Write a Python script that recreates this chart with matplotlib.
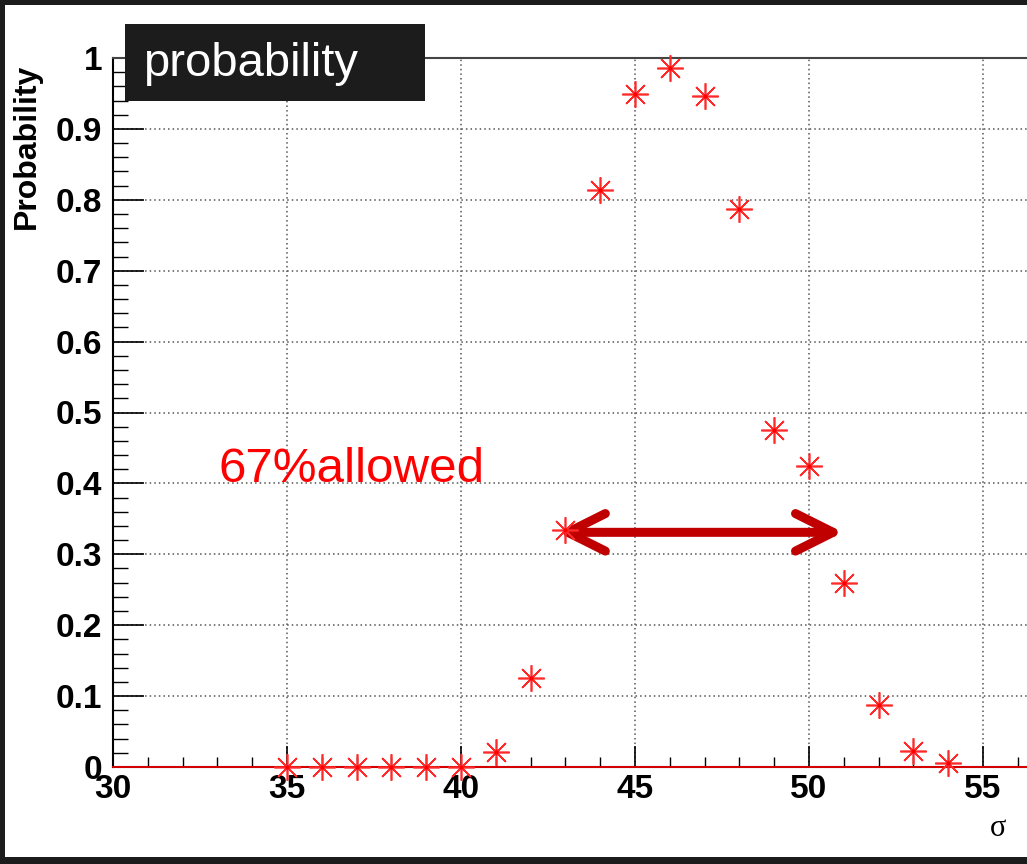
import matplotlib
matplotlib.use("Agg")
import matplotlib.pyplot as plt
from matplotlib.patches import Rectangle
from matplotlib.ticker import MultipleLocator

sigma = [35, 36, 37, 38, 39, 40, 41, 42, 43, 44, 45, 46, 47, 48, 49, 50, 51, 52, 53, 54]
prob = [0.0, 0.0, 0.0, 0.0, 0.0, 0.0, 0.021, 0.125, 0.334, 0.814, 0.949, 0.986,
        0.946, 0.787, 0.475, 0.425, 0.26, 0.087, 0.023, 0.006]
x_ticks = [30, 35, 40, 45, 50, 55]
y_ticks = [0, 0.1, 0.2, 0.3, 0.4, 0.5, 0.6, 0.7, 0.8, 0.9, 1]
y_tick_labels = ["0", "0.1", "0.2", "0.3", "0.4", "0.5", "0.6", "0.7", "0.8", "0.9", "1"]

W, H = 1027, 864
fig = plt.figure(figsize=(W / 100, H / 100), dpi=100)
fig.patch.set_facecolor("#1c1c1c")

def fx(px):
    return px / W

def fy(py):
    return 1 - py / H

# white slide area
fig.add_artist(Rectangle((fx(5), fy(857)), fx(W + 20), (857 - 5) / H,
                         transform=fig.transFigure, facecolor="white",
                         edgecolor="none", zorder=0))

ax = fig.add_axes([fx(113), fy(767), fx(W + 2 - 113), (767 - 58) / H])
ax.set_facecolor("white")
ax.set_xlim(30, 30 + (W + 2 - 113) / 34.8)
ax.set_ylim(0, 1)

ax.xaxis.set_minor_locator(MultipleLocator(1))
ax.yaxis.set_minor_locator(MultipleLocator(0.02))
ax.set_xticks(x_ticks)
ax.set_yticks(y_ticks)
ax.set_yticklabels(y_tick_labels)

for lab in ax.get_xticklabels() + ax.get_yticklabels():
    lab.set_fontfamily("Liberation Sans")
    lab.set_fontweight("bold")
    lab.set_fontsize(24)

ax.tick_params(axis="x", which="major", direction="in", length=15, width=1.2,
               pad=5, color="black", top=False)
ax.tick_params(axis="x", which="minor", direction="in", length=7.5, width=1.0,
               top=False)
ax.tick_params(axis="y", which="major", direction="in", length=22, width=1.2,
               pad=8, right=False)
ax.tick_params(axis="y", which="minor", direction="in", length=11, width=1.0,
               right=False)

ax.grid(True, which="major", linestyle=(0, (1, 2)), color="#555555", linewidth=1.1)

for s in ["left", "bottom"]:
    ax.spines[s].set_color("black")
    ax.spines[s].set_linewidth(1.5)
ax.spines["top"].set_color("#444444")
ax.spines["top"].set_linewidth(1.5)
ax.spines["right"].set_visible(False)

ax.axhline(0, color="red", linewidth=1.2, zorder=3, clip_on=False)
ax.plot(sigma, prob, linestyle="none", marker=(8, 2, 0), markersize=19,
        markeredgewidth=1.2, color="#ff2a2a", clip_on=False, zorder=5)
ax.plot(sigma, prob, linestyle="none", marker="o", markersize=3,
        color="#ff0000", markeredgewidth=0, clip_on=False, zorder=6)

ax.text(33.02, 0.419, "67%allowed", color="#ff0000", fontsize=35.5,
        family="Liberation Sans", ha="left", va="center")

ax.annotate("", xy=(42.78, 0.331), xytext=(50.98, 0.331),
            arrowprops=dict(arrowstyle="<->,head_length=0.9,head_width=0.45",
                            color="#c00000", lw=6.5, capstyle="round",
                            joinstyle="round", shrinkA=0, shrinkB=0,
                            mutation_scale=30))

fig.text(fx(27), fy(146), "Probability", family="Liberation Sans", weight="bold",
         fontsize=23, rotation=90, ha="center", va="center", color="black")

fig.text(fx(998), fy(828), "σ", family="Liberation Serif", fontsize=22,
         ha="center", va="center", color="black")

# title box
fig.add_artist(Rectangle((fx(125), fy(101)), fx(300), 77 / H,
                         transform=fig.transFigure, facecolor="#1c1c1c",
                         edgecolor="none", zorder=10))
fig.text(fx(143), fy(64), "probability", color="white", fontsize=34,
         family="Liberation Sans", ha="left", va="center", zorder=11)

fig.savefig("out.png", dpi=100, facecolor=fig.get_facecolor())
